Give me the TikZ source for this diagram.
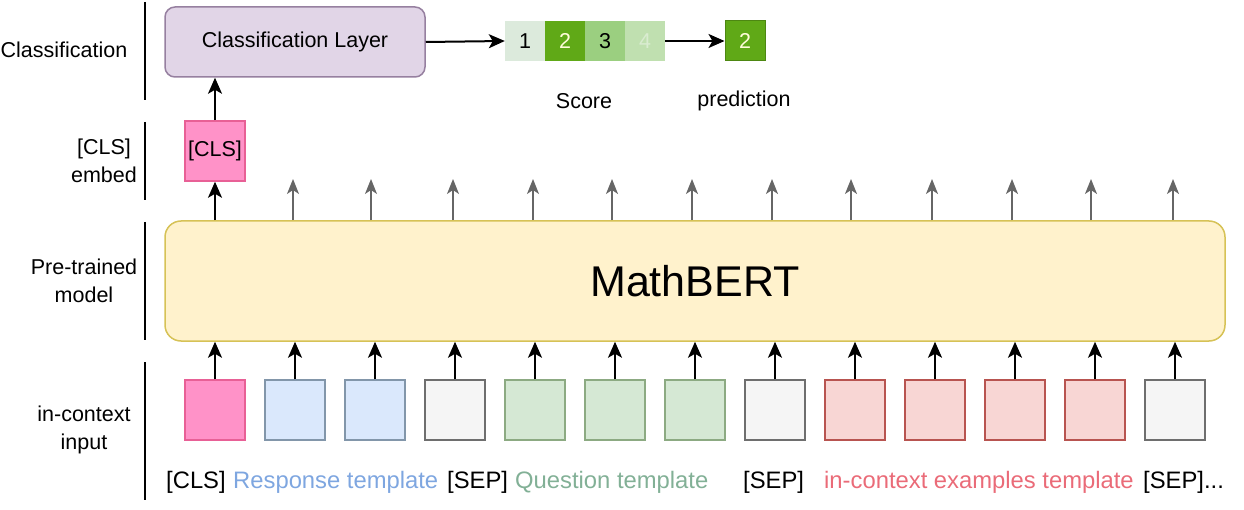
\documentclass[tikz,border=0pt]{standalone}
\usepackage{fontspec}
\setmainfont{Liberation Sans}
\usetikzlibrary{arrows.meta}
\definecolor{clsfill}{RGB}{255,146,200}
\definecolor{clsdraw}{RGB}{232,96,150}
\definecolor{purfill}{RGB}{225,213,231}
\definecolor{purdraw}{RGB}{150,128,160}
\definecolor{yelfill}{RGB}{255,242,204}
\definecolor{yeldraw}{RGB}{214,194,86}
\definecolor{bluefill}{RGB}{218,232,252}
\definecolor{bluedraw}{RGB}{130,150,170}
\definecolor{greyfill}{RGB}{245,245,245}
\definecolor{greydraw}{RGB}{110,110,110}
\definecolor{grnfill}{RGB}{213,232,212}
\definecolor{grndraw}{RGB}{140,170,130}
\definecolor{redfill}{RGB}{248,214,212}
\definecolor{reddraw}{RGB}{184,84,80}
\definecolor{darkgrn}{RGB}{96,169,23}
\definecolor{midgrn}{RGB}{155,207,128}
\definecolor{palegrn}{RGB}{220,234,220}
\definecolor{fadegrn}{RGB}{192,224,176}
\definecolor{resptxt}{RGB}{126,166,224}
\definecolor{questxt}{RGB}{130,176,150}
\definecolor{exptxt}{RGB}{234,107,120}
\definecolor{arrgrey}{RGB}{102,102,102}
\tikzset{
  lbl/.style={font=\fontsize{21.5}{28}\selectfont, align=center, inner sep=0pt},
  btxt/.style={font=\fontsize{23.8}{28}\selectfont, inner sep=0pt, anchor=base west},
  tok/.style={draw, line width=1.5pt, minimum width=60pt, minimum height=60pt, inner sep=0pt},
  cell/.style={minimum width=40pt, minimum height=40pt, inner sep=0pt, font=\fontsize{21.5}{24}\selectfont},
  blk/.style={line width=2pt, -{Stealth[length=16pt,width=14pt,inset=4pt]}},
  gry/.style={line width=1.5pt, arrgrey, -{Stealth[length=15pt,width=12pt,inset=4pt]}},
  divider/.style={line width=2pt},
}
\begin{document}
\begin{tikzpicture}[x=1pt,y=-1pt]
\useasboundingbox (0,0) rectangle (1244,510);
% left labels
\node[lbl] (lclass) at (64,50) {Classification};
\node[lbl] (lcls) at (104,161) {[CLS]\\embed};
\node[lbl] (lpre) at (84,281) {Pre-trained\\model};
\node[lbl] (lin) at (84,430) {in-context\\input};
% dividers
\coordinate (d1a) at (145,2); \coordinate (d1b) at (145,100);
\coordinate (d2a) at (145,122); \coordinate (d2b) at (145,200);
\coordinate (d3a) at (145,222); \coordinate (d3b) at (145,340);
\coordinate (d4a) at (145,362); \coordinate (d4b) at (145,500);
\draw[divider] (d1a) -- (d1b);
\draw[divider] (d2a) -- (d2b);
\draw[divider] (d3a) -- (d3b);
\draw[divider] (d4a) -- (d4b);
% classification layer
\node[draw=purdraw, fill=purfill, line width=1.5pt, rounded corners=10pt, minimum width=260pt, minimum height=70pt, font=\fontsize{21.5}{24}\selectfont] (cl) at (295,42) {Classification Layer};
% score cells
\node[cell, fill=palegrn] (s1) at (525,41) {1};
\node[cell, fill=darkgrn, text=white!85!yellow] (s2) at (565,41) {2};
\node[cell, fill=midgrn] (s3) at (605,41) {3};
\node[cell, fill=fadegrn, text=white!40!fadegrn] (s4) at (645,41) {4};
\node[cell, fill=darkgrn, draw=darkgrn!80!black, line width=1pt, text=white!85!yellow] (pred) at (745,41) {2};
\node[lbl] (score) at (584,101) {Score};
\node[lbl] (predl) at (744,101) {prediction};
\draw[blk] (cl.east) -- (s1.west);
\draw[blk] (s4.east) -- (pred.west);
% cls embed
\node[tok, fill=clsfill, draw=clsdraw, font=\fontsize{21.5}{24}\selectfont] (clsemb) at (215,151) {[CLS]};
\draw[blk] (clsemb.north) -- (cl.south -| clsemb.north);
% MathBERT
\node[draw=yeldraw, fill=yelfill, line width=1.5pt, rounded corners=16pt, minimum width=1060pt, minimum height=120pt, font=\fontsize{43}{48}\selectfont] (bert) at (695,281) {MathBERT};
\draw[blk] (bert.north -| clsemb.south) -- (clsemb.south);
% tokens
\foreach \i/\x/\f/\d in {1/215/clsfill/clsdraw, 2/295/bluefill/bluedraw, 3/375/bluefill/bluedraw, 4/455/greyfill/greydraw, 5/535/grnfill/grndraw, 6/615/grnfill/grndraw, 7/695/grnfill/grndraw, 8/775/greyfill/greydraw, 9/855/redfill/reddraw, 10/935/redfill/reddraw, 11/1015/redfill/reddraw, 12/1095/redfill/reddraw, 13/1175/greyfill/greydraw}{
  \node[tok, fill=\f, draw=\d] (t\i) at (\x,410) {};
  \draw[blk] (t\i.north) -- (t\i.north |- bert.south);
}
% output grey arrows
\foreach \i/\x in {2/293, 3/371, 4/453, 5/533, 6/612, 7/692, 8/772, 9/851, 10/932, 11/1012, 12/1091, 13/1173}{
  \coordinate (o\i) at (\x,179);
  \draw[gry] (o\i |- bert.north) -- (o\i);
}
% bottom texts
\node[btxt] (b1) at (166,488) {[CLS]};
\node[btxt, text=resptxt] (b2) at (233,488) {Response template};
\node[btxt] (b3) at (447,488) {[SEP]};
\node[btxt, text=questxt] (b4) at (515,488) {Question template};
\node[btxt] (b5) at (743,488) {[SEP]};
\node[btxt, text=exptxt] (b6) at (824,488) {in-context examples template};
\node[btxt] (b7) at (1143,488) {[SEP]...};
\end{tikzpicture}
\end{document}
